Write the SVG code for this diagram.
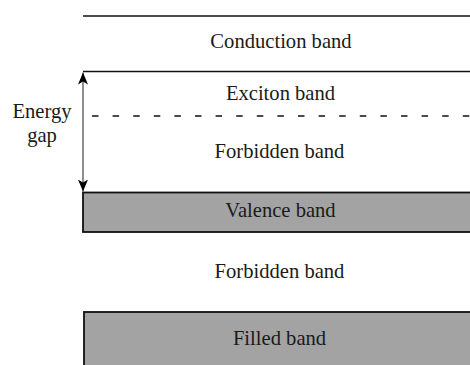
<svg xmlns="http://www.w3.org/2000/svg" width="470" height="365" viewBox="0 0 470 365">
<style>
text{font-family:"Liberation Serif","Times New Roman",serif;font-size:20.6px;fill:#1a1a1a;text-anchor:middle}
.ln{stroke:#111;stroke-width:1.6;fill:none}
.band{fill:#a3a3a3;stroke:#111;stroke-width:1.8}
</style>
<defs>
<marker id="ah" viewBox="0 0 12 10" refX="12" refY="5" markerWidth="12" markerHeight="10" markerUnits="userSpaceOnUse" orient="auto-start-reverse">
<path d="M0,0 L12,5 L0,10 L3,5 Z" fill="#000"/>
</marker>
</defs>
<g id="conduction">
<line class="ln" x1="83" y1="16" x2="470" y2="16"/>
<text x="281" y="48">Conduction band</text>
</g>
<g id="exciton">
<line class="ln" x1="83" y1="71.5" x2="470" y2="71.5"/>
<text x="280.5" y="100">Exciton band</text>
<line class="ln" x1="92" y1="116" x2="470" y2="116" stroke-dasharray="6.5 14.1" stroke-width="1.5"/>
</g>
<g id="forbidden1">
<text x="279.5" y="158">Forbidden band</text>
</g>
<g id="valence">
<rect class="band" x="83" y="192.5" width="400" height="39.5"/>
<text x="280.5" y="217">Valence band</text>
</g>
<g id="forbidden2">
<text x="279.5" y="278">Forbidden band</text>
</g>
<g id="filled">
<rect class="band" x="84" y="312" width="400" height="70" stroke-width="2.2"/>
<text x="279.5" y="345">Filled band</text>
</g>
<g id="energygap">
<text x="42" y="118">Energy</text>
<text x="42" y="142">gap</text>
</g>
<g id="connectors">
<line x1="83" y1="72.5" x2="83" y2="191.5" stroke="#333" stroke-width="1.1" marker-start="url(#ah)" marker-end="url(#ah)"/>
</g>
</svg>
